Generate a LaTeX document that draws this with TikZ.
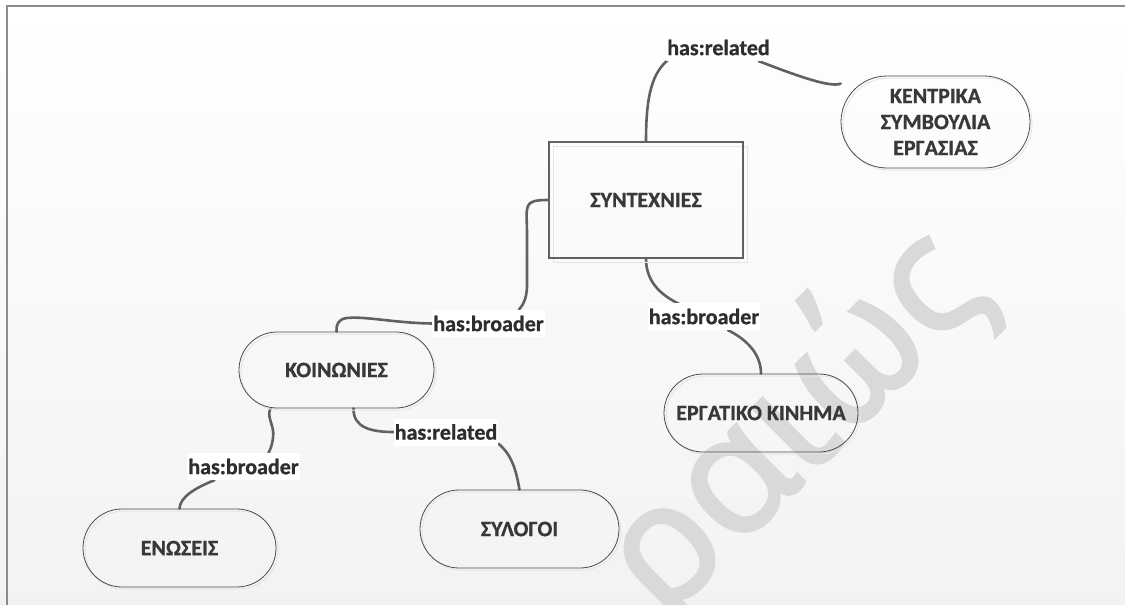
\documentclass[tikz,border=0pt]{standalone}
\usepackage{fontspec}
\setmainfont{Carlito}[BoldFeatures={FakeBold=0.9}]
\newfontfamily\wmfont{Open Sans}[FakeBold=2.2]
\usetikzlibrary{calc}
\pgfdeclarelayer{back}
\pgfdeclarelayer{conn}
\pgfsetlayers{back,conn,main}
\begin{document}
\begin{tikzpicture}[x=1pt,y=-1pt,
  txt/.style={font=\fontsize{22}{26}\selectfont\bfseries, text=black!78, align=center},
  stad/.style={txt, rectangle, rounded corners=#1, draw=black!70, line width=0.8pt,
     inner sep=0pt, minimum width=194pt, minimum height=78pt,
     preaction={draw=black!10, line width=1pt, transform canvas={shift={(2pt,-2pt)}}}},
  stad/.default=39pt,
  boxnode/.style={txt, rectangle, draw=black!62, line width=1.1pt, inner sep=0pt,
     preaction={draw=black!10, line width=1pt, transform canvas={shift={(4pt,-4pt)}}}},
  lab/.style={txt, fill=white, text=black!82, inner xsep=1pt, inner ysep=0pt, minimum height=27pt},
  link/.style={draw=black!62, line width=2.6pt, line cap=round},
]
\useasboundingbox (0,0) rectangle (1125,605);

\begin{pgfonlayer}{back}
  \shade[top color=white, bottom color=black!5] (0,0) rectangle (1125,605);
  \begin{scope}
    \clip (0,0) rectangle (1125,605);
    \node[rotate=45, text=black!15, font=\wmfont\fontsize{165}{165}\selectfont] (wm) at (795,425) {ραιώς};
  \end{scope}
  \draw[black!45, line width=1.6pt] (7,605) -- (7,6) -- (1125,6);
\end{pgfonlayer}

% concept nodes
\node[boxnode, minimum width=194pt, minimum height=116pt] (syn) at (646,200) {ΣΥΝΤΕΧΝΙΕΣ};
\node[stad=46pt, minimum width=189pt, minimum height=92pt] (ken) at (935.5,122) {ΚΕΝΤΡΙΚΑ\\ΣΥΜΒΟΥΛΙΑ\\ΕΡΓΑΣΙΑΣ};
\node[stad=38pt, minimum width=195pt, minimum height=76pt] (koi) at (336.5,370) {ΚΟΙΝΩΝΙΕΣ};
\node[stad] (erg) at (761,413) {ΕΡΓΑΤΙΚΟ ΚΙΝΗΜΑ};
\node[stad, minimum width=193pt] (ene) at (179.5,548) {ΕΝΩΣΕΙΣ};
\node[stad, minimum width=199pt] (syl) at (519.5,529) {ΣΥΛΟΓΟΙ};

% relation labels
\node[lab] (l1) at (718.5,47.5) {has:related};
\node[lab] (l2) at (488.5,323.5) {has:broader};
\node[lab] (l3) at (704,316.5) {has:broader};
\node[lab] (l4) at (243.5,466.5) {has:broader};
\node[lab] (l5) at (446,432) {has:related};

% connectors
\begin{pgfonlayer}{conn}
  \draw[link] (syn.north) .. controls (646,95) and (652,72) .. ($(l1.south west)+(4,-3)$);
  \draw[link] ($(l1.south east)+(-12,0)$) .. controls (795,75) and (830,88) .. (ken.158);
  \draw[link] (syn.west) .. controls (522,200) and (527,205) .. (527,235)
              -- (527,285) .. controls (527,300) and (522,306) .. ($(l2.north east)+(-26,0)$);
  \draw[link] (l2.west) .. controls (395,323) and (365,316) .. (347,318)
              .. controls (338,319) and (336,325) .. (koi.north);
  \draw[link] (syn.south) .. controls (646,285) and (665,297) .. ($(l3.north west)+(33,2)$);
  \draw[link] ($(l3.south)+(24,0)$) .. controls (748,340) and (761,355) .. (erg.north);
  \draw[link] ($(koi.south)+(-66,0)$) .. controls (266,418) and (275,425) .. (273,438)
              .. controls (272,446) and (270,450) .. ($(l4.north)+(25,0)$);
  \draw[link] ($(l4.south)+(-29,0)$) .. controls (195,488) and (180,497) .. (ene.north);
  \draw[link] ($(koi.south)+(17,0)$) .. controls (353,428) and (372,432) .. (l5.west);
  \draw[link] ($(l5.south east)+(0,-2)$) .. controls (512,455) and (516,470) .. (syl.north);
\end{pgfonlayer}
\end{tikzpicture}
\end{document}
